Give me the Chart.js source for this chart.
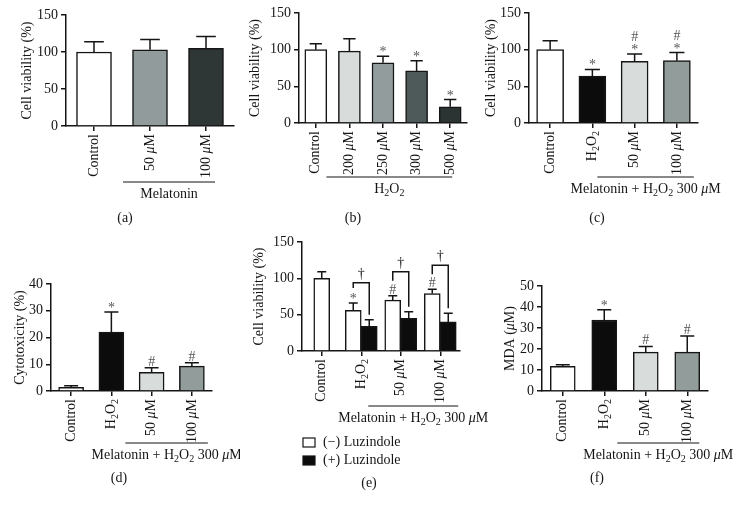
<!DOCTYPE html>
<html>
<head>
<title>Melatonin and H2O2 cell viability panels</title>
<style>
    body { margin: 0; background: #fff; }
    #fig { position: relative; width: 738px; height: 512px; }
    #fig canvas { position: absolute; }
</style>
</head>
<body>
<div id="fig">
    <canvas id="chartA"></canvas>
    <canvas id="chartB"></canvas>
    <canvas id="chartC"></canvas>
    <canvas id="chartD"></canvas>
    <canvas id="chartE"></canvas>
    <canvas id="chartF"></canvas>
</div>
<script src="https://cdn.jsdelivr.net/npm/chart.js"></script>
<script>
// ---- data ----
// (a) melatonin alone
const labelsA = ['Control', '50 μM', '100 μM'];
const valuesA = [100, 103, 105];
const errorsA = [114, 117, 121];
const colorsA = ['#ffffff', '#929b9b', '#2f3636'];

// (b) H2O2 dose
const labelsB = ['Control', '200 μM', '250 μM', '300 μM', '500 μM'];
const valuesB = [100, 98, 82, 71, 22];
const errorsB = [108, 115, 91, 85, 32];
const marksB = ['', '', '*', '*', '*'];
const colorsB = ['#ffffff', '#d8dddc', '#939c9c', '#4e5959', '#2c3333'];

// shared categories / colours for (c), (d), (f)
const labelsTreat = ['Control', 'H_2O_2', '50 μM', '100 μM'];
const colorsTreat = ['#ffffff', '#0c0c0c', '#d8dddc', '#929c9b'];

// (c) cell viability
const valuesC = [100, 64, 84, 85];
const errorsC = [112, 73, 94, 96];
const marksC = ['', '*', '*#', '*#'];

// (d) cytotoxicity
const valuesD = [1.4, 22, 7, 9.3];
const errorsD = [2.0, 29.5, 8.7, 10.6];
const marksD = ['', '*', '#', '#'];

// (e) luzindole
const valuesMinusLuz = [100, 56, 70, 79];
const errorsMinusLuz = [109, 66, 76, 85];
const marksMinusLuz = ['', '*', '#', '#'];
const valuesPlusLuz = [null, 34, 45, 40];
const errorsPlusLuz = [null, 43, 54, 52];
const bracketTopE = [null, 94, 109, 118];

// (f) MDA
const valuesF = [11.8, 33.8, 18.5, 18.5];
const errorsF = [12.5, 38.7, 21.2, 26.2];
const marksF = ['', '*', '#', '#'];

const FONT = '"Liberation Serif", "DejaVu Serif", serif';
const INK = '#151515';
const MARK = '#555555';
const X_AXIS_H = 60;

// simple rich text: "_2" is a subscript digit, μ is italic
function richParts(text) {
    const parts = [];
    text.split(/(_\d|μ)/).forEach(t => {
        if (!t) return;
        if (t[0] === '_') parts.push({ t: t.slice(1), sub: true });
        else if (t === 'μ') parts.push({ t: t, it: true });
        else parts.push({ t: t });
    });
    return parts;
}
function fontFor(p, size) {
    return (p.it ? 'italic ' : '') + (p.sub ? Math.round(size * 0.72) : size) + 'px ' + FONT;
}
function drawRich(ctx, text, x, y, align, size) {
    const parts = richParts(text);
    let w = 0;
    parts.forEach(p => { ctx.font = fontFor(p, size); p.w = ctx.measureText(p.t).width; w += p.w; });
    let cx = align === 'right' ? x - w : align === 'center' ? x - w / 2 : x;
    ctx.textAlign = 'left';
    ctx.textBaseline = 'middle';
    parts.forEach(p => {
        ctx.font = fontFor(p, size);
        ctx.fillText(p.t, cx, y + (p.sub ? size * 0.3 : 0));
        cx += p.w;
    });
}
function drawSymbol(ctx, ch, x, cy, size, color) {
    ctx.font = size + 'px ' + FONT;
    ctx.textAlign = 'center';
    ctx.textBaseline = 'alphabetic';
    ctx.fillStyle = color;
    const m = ctx.measureText(ch);
    ctx.fillText(ch, x, cy + (m.actualBoundingBoxAscent - m.actualBoundingBoxDescent) / 2);
}

function figurePlugin(spec) {
    return {
        id: 'figure',
        afterDatasetsDraw(chart) {
            const ctx = chart.ctx, y = chart.scales.y;
            ctx.save();
            ctx.strokeStyle = INK;
            ctx.lineWidth = 1.5;
            chart.data.datasets.forEach((ds, di) => {
                chart.getDatasetMeta(di).data.forEach((bar, i) => {
                    const e = ds.errors[i];
                    if (e == null || ds.data[i] == null) return;
                    const ye = y.getPixelForValue(e);
                    const cap = bar.width * 0.28;
                    ctx.beginPath();
                    ctx.moveTo(bar.x, bar.y);
                    ctx.lineTo(bar.x, ye);
                    ctx.moveTo(bar.x - cap, ye);
                    ctx.lineTo(bar.x + cap, ye);
                    ctx.stroke();
                    const m = ds.marks ? ds.marks[i] : '';
                    [...m].forEach((ch, k) => drawSymbol(ctx, ch, bar.x, ye - 7 - k * 11, 14, MARK));
                });
            });
            // significance brackets (panel e)
            if (spec.brackets) {
                const w = chart.getDatasetMeta(0).data, b = chart.getDatasetMeta(1).data;
                const d0 = chart.data.datasets[0], d1 = chart.data.datasets[1];
                spec.brackets.forEach((top, i) => {
                    if (top == null) return;
                    const yt = y.getPixelForValue(top);
                    const yl = y.getPixelForValue(d0.errors[i]) - 15;
                    const yr = y.getPixelForValue(d1.errors[i]) - 5;
                    ctx.beginPath();
                    ctx.moveTo(w[i].x, yl);
                    ctx.lineTo(w[i].x, yt);
                    ctx.lineTo(b[i].x, yt);
                    ctx.lineTo(b[i].x, yr);
                    ctx.stroke();
                    drawSymbol(ctx, '†', (w[i].x + b[i].x) / 2, yt - 9, 14, INK);
                });
            }
            ctx.restore();
        },
        afterDraw(chart) {
            const ctx = chart.ctx, xs = chart.scales.x, a = chart.chartArea;
            ctx.save();
            ctx.fillStyle = INK;
            // rotated category labels
            chart.data.labels.forEach((lab, i) => {
                ctx.save();
                ctx.translate(xs.getPixelForTick(i), a.bottom + 8);
                ctx.rotate(-Math.PI / 2);
                drawRich(ctx, lab, 0, 0, 'right', 14);
                ctx.restore();
            });
            // y axis title
            ctx.save();
            ctx.translate(a.left + spec.titleDx, (a.top + a.bottom) / 2);
            ctx.rotate(-Math.PI / 2);
            drawRich(ctx, spec.title, 0, 0, 'center', 14);
            ctx.restore();
            // group line and its label
            const g = spec.group;
            const x1 = xs.getPixelForTick(g.from) + g.dx1;
            const x2 = xs.getPixelForTick(g.to) + g.dx2;
            const gy = a.bottom + g.dy;
            ctx.strokeStyle = INK;
            ctx.lineWidth = 1.2;
            ctx.beginPath();
            ctx.moveTo(x1, gy);
            ctx.lineTo(x2, gy);
            ctx.stroke();
            drawRich(ctx, g.text, (x1 + x2) / 2, gy + 12, 'center', 14);
            // legend (panel e)
            if (spec.legend) {
                chart.data.datasets.forEach((ds, di) => {
                    const lx = a.left + 1, ly = a.bottom + 87 + di * 18;
                    ctx.fillStyle = ds.backgroundColor;
                    ctx.fillRect(lx, ly, 12, 9);
                    ctx.strokeStyle = INK;
                    ctx.lineWidth = 1.2;
                    ctx.strokeRect(lx, ly, 12, 9);
                    ctx.fillStyle = INK;
                    drawRich(ctx, ds.label, lx + 20, ly + 4.5, 'left', 14);
                });
            }
            // panel letter
            drawRich(ctx, spec.letter, a.left + spec.letterDx, a.bottom + spec.letterDy, 'center', 14);
            ctx.restore();
        }
    };
}

function makePanel(id, box, area, spec) {
    const cv = document.getElementById(id);
    cv.width = box.w;
    cv.height = box.h;
    cv.style.left = box.x + 'px';
    cv.style.top = box.y + 'px';
    return new Chart(cv, {
        type: 'bar',
        data: { labels: spec.labels, datasets: spec.datasets },
        options: {
            responsive: false,
            animation: false,
            events: [],
            skipNull: true,
            barThickness: spec.barThickness,
            layout: {
                padding: {
                    left: 0,
                    top: area.t - box.y,
                    right: box.x + box.w - area.r,
                    bottom: box.y + box.h - area.b - X_AXIS_H
                }
            },
            plugins: { legend: { display: false }, tooltip: { enabled: false } },
            scales: {
                x: {
                    grid: { offset: false, drawOnChartArea: false, color: INK, tickLength: 5, lineWidth: 1.5 },
                    border: { color: INK, width: 1.5 },
                    ticks: { display: false },
                    afterFit(s) { s.height = X_AXIS_H; }
                },
                y: {
                    min: 0,
                    max: spec.max,
                    ticks: { stepSize: spec.step, color: INK, font: { family: FONT, size: 14 }, padding: 3 },
                    grid: { drawOnChartArea: false, color: INK, tickLength: 5, lineWidth: 1.5 },
                    border: { color: INK, width: 1.5 },
                    afterFit(s) { s.width = area.l - box.x; }
                }
            }
        },
        plugins: [figurePlugin(spec)]
    });
}

function singleSet(values, errors, marks, colors) {
    return [{
        data: values,
        errors: errors,
        marks: marks,
        backgroundColor: colors,
        borderColor: INK,
        borderWidth: 1.5
    }];
}

const treatGroup = 'Melatonin + H_2O_2 300 μM';

makePanel('chartA', { x: 0, y: 0, w: 245, h: 230 }, { l: 66, t: 15, r: 234, b: 126 }, {
    labels: labelsA,
    datasets: singleSet(valuesA, errorsA, null, colorsA),
    max: 150, step: 50, barThickness: 35,
    title: 'Cell viability (%)', titleDx: -39,
    group: { from: 1, to: 2, dx1: -27, dx2: 9, dy: 56, text: 'Melatonin' },
    letter: '(a)', letterDx: 59, letterDy: 92
});

makePanel('chartB', { x: 240, y: 0, w: 235, h: 230 }, { l: 299, t: 13, r: 467, b: 123 }, {
    labels: labelsB,
    datasets: singleSet(valuesB, errorsB, marksB, colorsB),
    max: 150, step: 50, barThickness: 22,
    title: 'Cell viability (%)', titleDx: -44,
    group: { from: 1, to: 4, dx1: -23, dx2: 2, dy: 54, text: 'H_2O_2' },
    letter: '(b)', letterDx: 54, letterDy: 95
});

makePanel('chartC', { x: 476, y: 0, w: 262, h: 230 }, { l: 529, t: 13, r: 698, b: 123 }, {
    labels: labelsTreat,
    datasets: singleSet(valuesC, errorsC, marksC, colorsTreat),
    max: 150, step: 50, barThickness: 27,
    title: 'Cell viability (%)', titleDx: -38,
    group: { from: 1, to: 3, dx1: 5, dx2: 17, dy: 54, text: treatGroup },
    letter: '(c)', letterDx: 68, letterDy: 95
});

makePanel('chartD', { x: 0, y: 265, w: 240, h: 230 }, { l: 51, t: 284, r: 212, b: 391 }, {
    labels: labelsTreat,
    datasets: singleSet(valuesD, errorsD, marksD, colorsTreat),
    max: 40, step: 10, barThickness: 25,
    title: 'Cytotoxicity (%)', titleDx: -31,
    group: { from: 1, to: 3, dx1: 14, dx2: 16, dy: 52, text: treatGroup },
    letter: '(d)', letterDx: 68, letterDy: 87
});

makePanel('chartE', { x: 240, y: 225, w: 250, h: 275 }, { l: 302, t: 242, r: 460, b: 351 }, {
    labels: labelsTreat,
    datasets: [
        { label: '(−) Luzindole', data: valuesMinusLuz, errors: errorsMinusLuz, marks: marksMinusLuz,
          backgroundColor: '#ffffff', borderColor: INK, borderWidth: 1.5 },
        { label: '(+) Luzindole', data: valuesPlusLuz, errors: errorsPlusLuz,
          backgroundColor: '#0c0c0c', borderColor: INK, borderWidth: 1.5 }
    ],
    max: 150, step: 50, barThickness: 16,
    brackets: bracketTopE, legend: true,
    title: 'Cell viability (%)', titleDx: -43,
    group: { from: 1, to: 3, dx1: 7, dx2: 18, dy: 55, text: treatGroup },
    letter: '(e)', letterDx: 67, letterDy: 132
});

makePanel('chartF', { x: 495, y: 265, w: 243, h: 230 }, { l: 542, t: 286, r: 708, b: 391 }, {
    labels: labelsTreat,
    datasets: singleSet(valuesF, errorsF, marksF, colorsTreat),
    max: 50, step: 10, barThickness: 25,
    title: 'MDA (μM)', titleDx: -32,
    group: { from: 1, to: 3, dx1: 13, dx2: 12, dy: 52, text: treatGroup },
    letter: '(f)', letterDx: 55, letterDy: 87
});
</script>
</body>
</html>
